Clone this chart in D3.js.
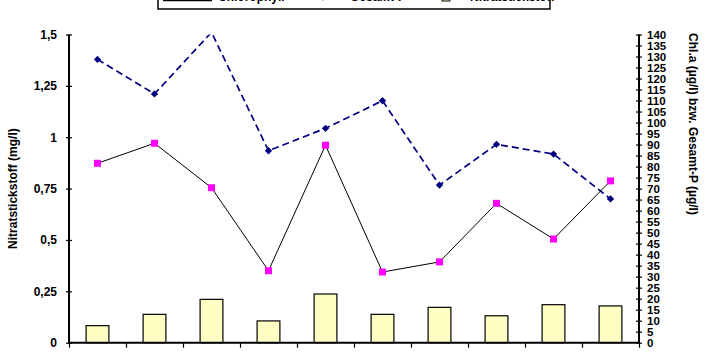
<!DOCTYPE html>
<html>
<head>
<meta charset="utf-8">
<script src="https://cdn.jsdelivr.net/npm/d3@7/dist/d3.min.js"></script>
<style>
  body { margin: 0; background: #fff; }
  svg { display: block; font-family: 'Liberation Sans', Arial, sans-serif; }
</style>
</head>
<body>
<div id="chart"></div>
<script>
// Messstellen (no labels shown on the x axis)
const stations = ['1', '2', '3', '4', '5', '6', '7', '8', '9', '10'];
// Chl.a (µg/l) - black line, magenta squares
const chlorophyll = [81.5, 90.6, 70.4, 32.7, 89.7, 32.1, 36.7, 63.3, 47.1, 73.5];
// Gesamt-P (µg/l) - blue dashed line, diamonds
const phosphor = [128.7, 113.0, 141, 87.2, 97.4, 109.9, 71.6, 90.1, 85.7, 65.3];
// Nitratstickstoff (mg/l) - bars
const nitrat = [0.083, 0.138, 0.211, 0.106, 0.237, 0.138, 0.172, 0.131, 0.185, 0.179];

const leftTicks = [0, 0.25, 0.5, 0.75, 1, 1.25, 1.5];
const rightTicks = d3.range(0, 141, 5);
const legendLabels = ['Chlorophyll', 'Gesamt-P', 'Nitratstickstoff'];

const W = 707, H = 354;
const pLeft = 69, pRight = 639, pTop = 34.5, pBottom = 342.7;

const svg = d3.select('#chart').append('svg')
  .attr('width', W).attr('height', H);

const x = d3.scaleBand().domain(stations).range([pLeft, pRight]).paddingInner(0.6).paddingOuter(0.3);
const xc = d => x(d) + x.bandwidth() / 2;
const yL = d3.scaleLinear().domain([0, 1.5]).range([pBottom, pTop]);
const yR = d3.scaleLinear().domain([0, 140]).range([pBottom, pTop]);

const fmt = d => String(d).replace('.', ',');

svg.append('defs').append('clipPath').attr('id', 'plot')
  .append('rect').attr('x', pLeft).attr('y', pTop).attr('width', pRight - pLeft).attr('height', pBottom - pTop);

// bars
svg.append('g').selectAll('rect')
  .data(nitrat)
  .enter()
  .append('rect')
  .attr('x', (d, i) => x(stations[i]))
  .attr('y', d => yL(d))
  .attr('width', x.bandwidth())
  .attr('height', d => pBottom - yL(d))
  .attr('fill', '#ffffc4')
  .attr('stroke', '#000')
  .attr('stroke-width', 1.2);

const plot = svg.append('g').attr('clip-path', 'url(#plot)');

// phosphor line
plot.append('path')
  .datum(phosphor)
  .attr('d', d3.line().x((d, i) => xc(stations[i])).y(d => yR(d)))
  .attr('fill', 'none')
  .attr('stroke', '#000080')
  .attr('stroke-width', 1.7)
  .attr('stroke-dasharray', '7,4');

// chlorophyll line
plot.append('path')
  .datum(chlorophyll)
  .attr('d', d3.line().x((d, i) => xc(stations[i])).y(d => yR(d)))
  .attr('fill', 'none')
  .attr('stroke', '#000')
  .attr('stroke-width', 1);

// markers
svg.append('g').selectAll('path')
  .data(phosphor.map((v, i) => [stations[i], v]).filter(d => d[1] <= 140))
  .enter()
  .append('path')
  .attr('d', d3.symbol(d3.symbolDiamond2, 34))
  .attr('transform', d => `translate(${xc(d[0])},${yR(d[1])})`)
  .attr('fill', '#000080');

svg.append('g').selectAll('rect')
  .data(chlorophyll)
  .enter()
  .append('rect')
  .attr('x', (d, i) => xc(stations[i]) - 3.5)
  .attr('y', d => yR(d) - 3.5)
  .attr('width', 7).attr('height', 7)
  .attr('fill', '#ff00ff');

// axes
function styleAxis(g) {
  g.select('.domain').remove();
  g.selectAll('.tick line').attr('stroke', '#000').attr('stroke-width', 1.2);
  g.selectAll('.tick text')
    .attr('font-size', '12px').attr('font-weight', 'bold').attr('fill', '#000');
}

const gl = svg.append('g')
  .attr('transform', `translate(${pLeft},0)`)
  .call(d3.axisLeft(yL).tickValues(leftTicks).tickFormat(fmt).tickSize(3).tickPadding(9))
  .call(styleAxis);
gl.selectAll('.tick line').attr('x1', -3).attr('x2', 3);

const gr = svg.append('g')
  .attr('transform', `translate(${pRight},0)`)
  .call(d3.axisRight(yR).tickValues(rightTicks).tickSize(3).tickPadding(5))
  .call(styleAxis);
gr.selectAll('.tick line').attr('x1', -3).attr('x2', 3);
gr.selectAll('.tick text').attr('font-size', '11.5px');

svg.append('g')
  .attr('transform', `translate(0,${pBottom})`)
  .call(d3.axisBottom(d3.scaleLinear().domain([0, stations.length]).range([pLeft, pRight]))
    .ticks(stations.length).tickFormat('').tickSize(5))
  .call(styleAxis);

svg.append('line').attr('x1', pLeft).attr('x2', pLeft).attr('y1', pTop).attr('y2', pBottom)
  .attr('stroke', '#000').attr('stroke-width', 2);
svg.append('line').attr('x1', pRight).attr('x2', pRight).attr('y1', pTop).attr('y2', pBottom)
  .attr('stroke', '#000').attr('stroke-width', 2);
svg.append('line').attr('x1', pLeft - 1).attr('x2', pRight + 1).attr('y1', pBottom).attr('y2', pBottom)
  .attr('stroke', '#000').attr('stroke-width', 2);

// axis titles
svg.append('text')
  .attr('transform', `translate(17,${(pTop + pBottom) / 2}) rotate(-90)`)
  .attr('text-anchor', 'middle')
  .attr('font-size', '12px').attr('font-weight', 'bold')
  .text('Nitratstickstoff (mg/l)');

svg.append('text')
  .attr('transform', `translate(689,124) rotate(90)`)
  .attr('text-anchor', 'middle')
  .attr('font-size', '12px').attr('font-weight', 'bold')
  .text('Chl.a (µg/l) bzw. Gesamt-P (µg/l)');

// legend (mostly cut off at the top)
const lg = svg.append('g');
lg.append('rect').attr('x', 158).attr('y', -25).attr('width', 392).attr('height', 34)
  .attr('fill', '#fff').attr('stroke', '#000').attr('stroke-width', 1.5);
lg.append('line').attr('x1', 163).attr('x2', 212).attr('y1', 0.5).attr('y2', 0.5)
  .attr('stroke', '#000').attr('stroke-width', 1.5);
lg.append('path').attr('d', d3.symbol(d3.symbolDiamond2, 34))
  .attr('transform', 'translate(323,-3)').attr('fill', '#000080');
lg.append('rect').attr('x', 442).attr('y', -7).attr('width', 8).attr('height', 8)
  .attr('fill', '#ffffc4').attr('stroke', '#000');
lg.selectAll('text')
  .data(legendLabels)
  .enter()
  .append('text')
  .attr('x', (d, i) => [218, 350, 470][i])
  .attr('y', 1)
  .attr('font-size', '12px').attr('font-weight', 'bold')
  .text(d => d);
</script>
</body>
</html>
